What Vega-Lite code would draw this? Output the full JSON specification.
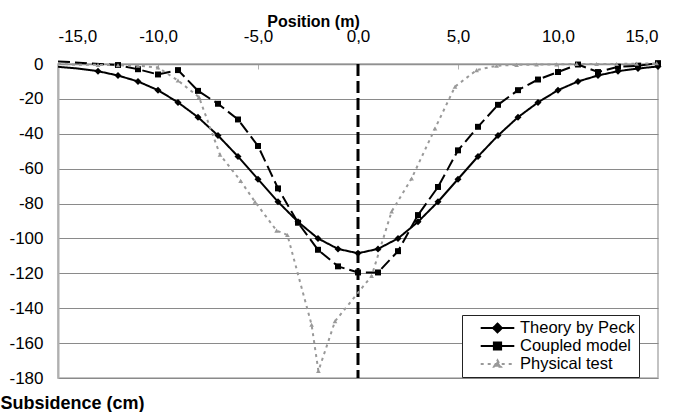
{
  "$schema": "https://vega.github.io/schema/vega-lite/v6.json",
  "width": 600,
  "height": 314,
  "autosize": {"type": "none"},
  "padding": {"left": 58, "top": 64, "right": 19, "bottom": 34},
  "background": "white",
  "config": {
    "font": "Liberation Sans",
    "view": {"stroke": "#b0b0b0", "strokeWidth": 1.5}
  },
  "datasets": {
    "zero": [{"x": 0, "y": 0, "y2": -180}],
    "series": [
      {"series": "Theory by Peck", "x": -15, "y": -1.6},
      {"series": "Theory by Peck", "x": -14, "y": -2.6},
      {"series": "Theory by Peck", "x": -13, "y": -4.1},
      {"series": "Theory by Peck", "x": -12, "y": -6.6},
      {"series": "Theory by Peck", "x": -11, "y": -10},
      {"series": "Theory by Peck", "x": -10, "y": -15},
      {"series": "Theory by Peck", "x": -9, "y": -22},
      {"series": "Theory by Peck", "x": -8, "y": -30.5},
      {"series": "Theory by Peck", "x": -7, "y": -41},
      {"series": "Theory by Peck", "x": -6, "y": -53},
      {"series": "Theory by Peck", "x": -5, "y": -66},
      {"series": "Theory by Peck", "x": -4, "y": -79},
      {"series": "Theory by Peck", "x": -3, "y": -90.5},
      {"series": "Theory by Peck", "x": -2, "y": -100},
      {"series": "Theory by Peck", "x": -1, "y": -106},
      {"series": "Theory by Peck", "x": 0, "y": -108.5},
      {"series": "Theory by Peck", "x": 1, "y": -106},
      {"series": "Theory by Peck", "x": 2, "y": -100},
      {"series": "Theory by Peck", "x": 3, "y": -90.5},
      {"series": "Theory by Peck", "x": 4, "y": -79},
      {"series": "Theory by Peck", "x": 5, "y": -66},
      {"series": "Theory by Peck", "x": 6, "y": -53},
      {"series": "Theory by Peck", "x": 7, "y": -41},
      {"series": "Theory by Peck", "x": 8, "y": -30.5},
      {"series": "Theory by Peck", "x": 9, "y": -22},
      {"series": "Theory by Peck", "x": 10, "y": -15},
      {"series": "Theory by Peck", "x": 11, "y": -10},
      {"series": "Theory by Peck", "x": 12, "y": -6.6},
      {"series": "Theory by Peck", "x": 13, "y": -4.1},
      {"series": "Theory by Peck", "x": 14, "y": -2.6},
      {"series": "Theory by Peck", "x": 15, "y": -1.4},
      {"series": "Coupled model", "x": -15, "y": 1.5},
      {"series": "Coupled model", "x": -12, "y": -0.6},
      {"series": "Coupled model", "x": -11, "y": -3},
      {"series": "Coupled model", "x": -10, "y": -6},
      {"series": "Coupled model", "x": -9, "y": -3.5},
      {"series": "Coupled model", "x": -8, "y": -15.4},
      {"series": "Coupled model", "x": -7, "y": -22.8},
      {"series": "Coupled model", "x": -6, "y": -31.8},
      {"series": "Coupled model", "x": -5, "y": -47},
      {"series": "Coupled model", "x": -4, "y": -71.3},
      {"series": "Coupled model", "x": -3, "y": -91},
      {"series": "Coupled model", "x": -2, "y": -106.5},
      {"series": "Coupled model", "x": -1, "y": -116},
      {"series": "Coupled model", "x": 0, "y": -119.5},
      {"series": "Coupled model", "x": 1, "y": -119.5},
      {"series": "Coupled model", "x": 2, "y": -107.3},
      {"series": "Coupled model", "x": 3, "y": -86.6},
      {"series": "Coupled model", "x": 4, "y": -70.5},
      {"series": "Coupled model", "x": 5, "y": -49.5},
      {"series": "Coupled model", "x": 6, "y": -36},
      {"series": "Coupled model", "x": 7, "y": -23.4},
      {"series": "Coupled model", "x": 8, "y": -15},
      {"series": "Coupled model", "x": 9, "y": -8.9},
      {"series": "Coupled model", "x": 10, "y": -4.6},
      {"series": "Coupled model", "x": 11, "y": -0.3},
      {"series": "Coupled model", "x": 12, "y": -4.6},
      {"series": "Coupled model", "x": 13, "y": -1.6},
      {"series": "Coupled model", "x": 14, "y": -1},
      {"series": "Coupled model", "x": 15, "y": 0.5},
      {"series": "Physical test", "x": -15, "y": 0.3},
      {"series": "Physical test", "x": -14, "y": -0.5},
      {"series": "Physical test", "x": -13, "y": -0.5},
      {"series": "Physical test", "x": -12, "y": -0.7},
      {"series": "Physical test", "x": -11, "y": -1},
      {"series": "Physical test", "x": -10, "y": -2},
      {"series": "Physical test", "x": -9, "y": -9.5},
      {"series": "Physical test", "x": -7.95, "y": -19},
      {"series": "Physical test", "x": -6.9, "y": -52},
      {"series": "Physical test", "x": -5.87, "y": -67},
      {"series": "Physical test", "x": -5.15, "y": -79},
      {"series": "Physical test", "x": -4.07, "y": -95.5},
      {"series": "Physical test", "x": -3.53, "y": -98},
      {"series": "Physical test", "x": -2.32, "y": -149.5},
      {"series": "Physical test", "x": -1.98, "y": -176},
      {"series": "Physical test", "x": -1.15, "y": -147.5},
      {"series": "Physical test", "x": 0.68, "y": -121.5},
      {"series": "Physical test", "x": 1.68, "y": -84.6},
      {"series": "Physical test", "x": 2.68, "y": -65.6},
      {"series": "Physical test", "x": 3.85, "y": -37},
      {"series": "Physical test", "x": 4.85, "y": -13},
      {"series": "Physical test", "x": 5.93, "y": -3.5},
      {"series": "Physical test", "x": 6.93, "y": -1},
      {"series": "Physical test", "x": 7.93, "y": -0.5},
      {"series": "Physical test", "x": 8.93, "y": -0.3},
      {"series": "Physical test", "x": 9.93, "y": -0.2},
      {"series": "Physical test", "x": 10.93, "y": 0},
      {"series": "Physical test", "x": 11.93, "y": 0},
      {"series": "Physical test", "x": 12.93, "y": 0},
      {"series": "Physical test", "x": 13.93, "y": 0.2},
      {"series": "Physical test", "x": 14.93, "y": 0.4}
    ]
  },
  "encoding": {
    "x": {
      "field": "x", "type": "quantitative",
      "scale": {"domain": [-15, 15], "nice": false, "zero": false},
      "axis": {
        "orient": "top", "title": "Position (m)", "values": [-15, -10, -5, 0, 5, 10, 15],
        "labelExpr": "replace((datum.value < 0 ? '-' : '') + format(abs(datum.value), '.1f'), '.', ',')",
        "grid": false, "ticks": true, "tickSize": -5, "tickColor": "#b0b0b0",
        "domainColor": "#909090", "domainWidth": 1.5,
        "labelFont": "Liberation Sans", "labelFontSize": 17, "labelColor": "black",
        "labelBaseline": "alphabetic", "labelPadding": 28,
        "titleFont": "Liberation Sans", "titleFontSize": 16, "titleFontWeight": "bold", "titleColor": "black",
        "titleX": 255, "titleY": -38, "titleBaseline": "alphabetic"
      }
    },
    "y": {
      "field": "y", "type": "quantitative",
      "scale": {"domain": [-180, 0], "nice": false},
      "axis": {
        "title": "Subsidence (cm)", "values": [-180, -160, -140, -120, -100, -80, -60, -40, -20, 0],
        "labelExpr": "(datum.value < 0 ? '-' : '') + abs(datum.value)",
        "grid": true, "gridColor": "#8a8a8a", "gridWidth": 1,
        "ticks": false, "domainColor": "#b0b0b0", "domainWidth": 2,
        "labelFont": "Liberation Sans", "labelFontSize": 17, "labelColor": "black", "labelPadding": 15,
        "titleFont": "Liberation Sans", "titleFontSize": 18, "titleFontWeight": "bold", "titleColor": "black",
        "titleAngle": 0, "titleAlign": "left", "titleBaseline": "alphabetic", "titleX": -58, "titleY": 344
      }
    }
  },
  "layer": [
    {
      "data": {"name": "zero"},
      "mark": {"type": "rule", "color": "black", "strokeWidth": 3, "strokeDash": [12, 5]},
      "encoding": {
        "y2": {"field": "y2"}
      }
    },
    {
      "data": {"name": "series"},
      "mark": {"type": "line", "strokeWidth": 2},
      "encoding": {
        "color": {
          "field": "series", "type": "nominal",
          "scale": {"domain": ["Theory by Peck", "Coupled model", "Physical test"], "range": ["black", "black", "#999999"]},
          "legend": {
            "title": null, "orient": "none", "legendX": 404, "legendY": 251, "padding": 4,
            "strokeColor": "#222222", "fillColor": "white",
            "labelFont": "Liberation Sans", "labelFontSize": 16.5, "labelColor": "black",
            "symbolSize": 256, "symbolOffset": 22.5, "labelOffset": 13.5, "rowPadding": 0,
            "encoding": {
              "symbols": {
                "shape": {"value": {"expr": "datum.value === 'Theory by Peck' ? 'M-2.1,0L2.1,0M0,-0.55L0.55,0L0,0.55L-0.55,0Z' : datum.value === 'Coupled model' ? 'M-2.1,0L2.1,0M-0.45,-0.45L0.45,-0.45L0.45,0.45L-0.45,0.45Z' : 'M-2.1,0L2.1,0M0,-0.45L0.45,0.35L-0.45,0.35Z'"}},
                "size": {"value": 256},
                "fill": {"value": {"expr": "datum.value === 'Physical test' ? '#999999' : 'black'"}},
                "stroke": {"value": {"expr": "datum.value === 'Physical test' ? '#999999' : 'black'"}},
                "strokeDash": {"value": {"expr": "datum.value === 'Physical test' ? [3, 4] : [1, 0]"}},
                "strokeWidth": {"value": 2},
                "opacity": {"value": 1}
              }
            }
          }
        },
        "strokeDash": {
          "field": "series", "type": "nominal",
          "scale": {"domain": ["Physical test", "Theory by Peck", "Coupled model"], "range": [[3, 4], [1, 0], [12, 5]]},
          "legend": null
        }
      }
    },
    {
      "data": {"name": "series"},
      "transform": [{"filter": "datum.x > -14"}],
      "mark": {"type": "point", "filled": true, "opacity": 1},
      "encoding": {
        "color": {"field": "series", "type": "nominal"},
        "shape": {
          "field": "series", "type": "nominal",
          "scale": {"domain": ["Coupled model", "Theory by Peck", "Physical test"], "range": ["square", "diamond", "triangle-up"]},
          "legend": null
        },
        "size": {
          "field": "series", "type": "nominal",
          "scale": {"domain": ["Physical test", "Coupled model", "Theory by Peck"], "range": [22, 49, 70]},
          "legend": null
        }
      }
    }
  ]
}
